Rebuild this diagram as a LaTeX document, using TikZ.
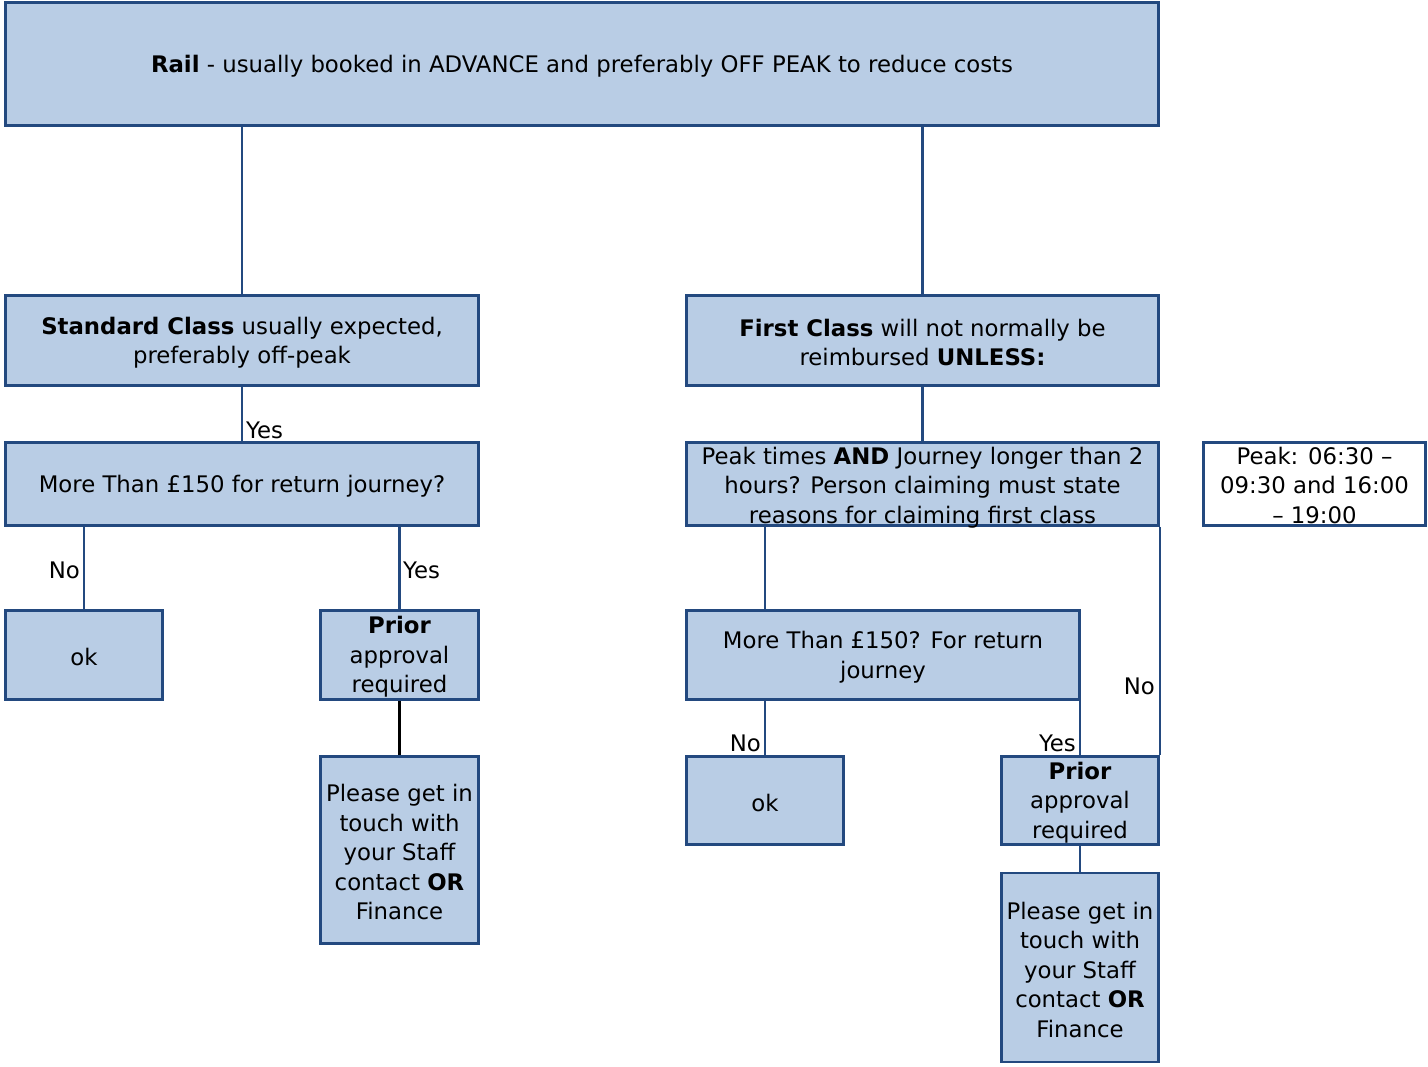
\documentclass[tikz,border=0pt]{standalone}
\usepackage{fontspec}
\setmainfont{DejaVu Sans}
\definecolor{boxfill}{HTML}{B9CDE5}
\definecolor{boxline}{HTML}{23497F}
% taller first line, to set the text a little lower in its box
\newcommand{\firstline}{\rule{0pt}{21.5pt}}
\begin{document}
\begin{tikzpicture}[x=1pt,y=-1pt,
  font=\fontsize{22.8}{29.5}\selectfont,
  box/.style={draw=boxline,fill=boxfill,line width=2.8pt,inner sep=0pt,align=center},
  note/.style={box,fill=white},
  link/.style={draw=boxline,line width=2.8pt},
  lbl/.style={inner sep=1pt}]
\useasboundingbox (0,0) rectangle (1428,1067);

% top level
\node[box,minimum width=1153pt,minimum height=123pt] (rail) at (582,64)
  {\firstline\textbf{Rail} - usually booked in ADVANCE and preferably OFF PEAK to reduce costs};

% standard class branch
\node[box,minimum width=473pt,minimum height=90pt] (std) at (242,340.5)
  {\firstline\textbf{Standard Class} usually expected,\\preferably off-peak};
\node[box,minimum width=473pt,minimum height=83pt] (q1) at (242,484)
  {\firstline More Than £150 for return journey?};
\node[box,minimum width=157pt,minimum height=89pt] (okL) at (84,655) {\firstline ok};
\node[box,minimum width=158pt,minimum height=89pt] (prL) at (399.5,655)
  {\firstline\textbf{Prior}\\approval\\required};
\node[box,minimum width=158pt,minimum height=187pt] (plL) at (399.5,850)
  {\firstline Please get in\\touch with\\your Staff\\contact \textbf{OR}\\Finance};

% first class branch
\node[box,minimum width=472pt,minimum height=90pt] (fst) at (922.5,340.5)
  {\firstline\textbf{First Class} will not normally be\\reimbursed \textbf{UNLESS:}};
\node[box,minimum width=472pt,minimum height=83pt] (pk) at (922.5,484)
  {\raisebox{-9pt}[0pt][0pt]{\begin{tabular}{@{}c@{}}Peak times \textbf{AND} Journey longer than 2\\hours? Person claiming must state\\reasons for claiming first class\end{tabular}}};
\node[note,minimum width=222pt,minimum height=83pt] (ph) at (1314.5,484)
  {\raisebox{-9pt}[0pt][0pt]{\begin{tabular}{@{}c@{}}Peak: 06:30 –\\09:30 and 16:00\\– 19:00\end{tabular}}};
\node[box,minimum width=393pt,minimum height=89pt] (q2) at (883,655)
  {\firstline More Than £150? For return\\journey};
\node[box,minimum width=157pt,minimum height=88pt] (okR) at (765,800.5) {\firstline ok};
\node[box,minimum width=157pt,minimum height=88pt] (prR) at (1080,800.5)
  {\firstline\textbf{Prior}\\approval\\required};
\node[box,minimum width=157pt,minimum height=189pt] (plR) at (1080,967.5)
  {\firstline Please get in\\touch with\\your Staff\\contact \textbf{OR}\\Finance};

% connectors
\draw[link] (rail.south -| std.north) -- (std.north);
\draw[link] (rail.south -| fst.north) -- (fst.north);
\draw[link] (std.south) -- (q1.north);
\draw[link] (q1.south -| okL.north) -- (okL.north);
\draw[link] (q1.south -| prL.north) -- (prL.north);
\draw[line width=2.8pt] (prL.south) -- (plL.north);
\draw[link] (fst.south) -- (pk.north);
\draw[link] (pk.south -| okR.north) -- (q2.north -| okR.north);
\draw[link] (q2.south -| okR.north) -- (okR.north);
\draw[link] (q2.south -| prR.north) -- (prR.north);
\draw[link] (pk.south east) -- (prR.north east);
\draw[link] (prR.south) -- (plR.north);

% branch labels
\node[lbl,anchor=west] (y1) at (245,430) {Yes};
\node[lbl,anchor=east] (n1) at (81,570) {No};
\node[lbl,anchor=west] (y2) at (402,570) {Yes};
\node[lbl,anchor=east] (n2) at (1156,686) {No};
\node[lbl,anchor=east] (n3) at (762,743) {No};
\node[lbl,anchor=east] (y3) at (1077,743) {Yes};
\end{tikzpicture}
\end{document}
